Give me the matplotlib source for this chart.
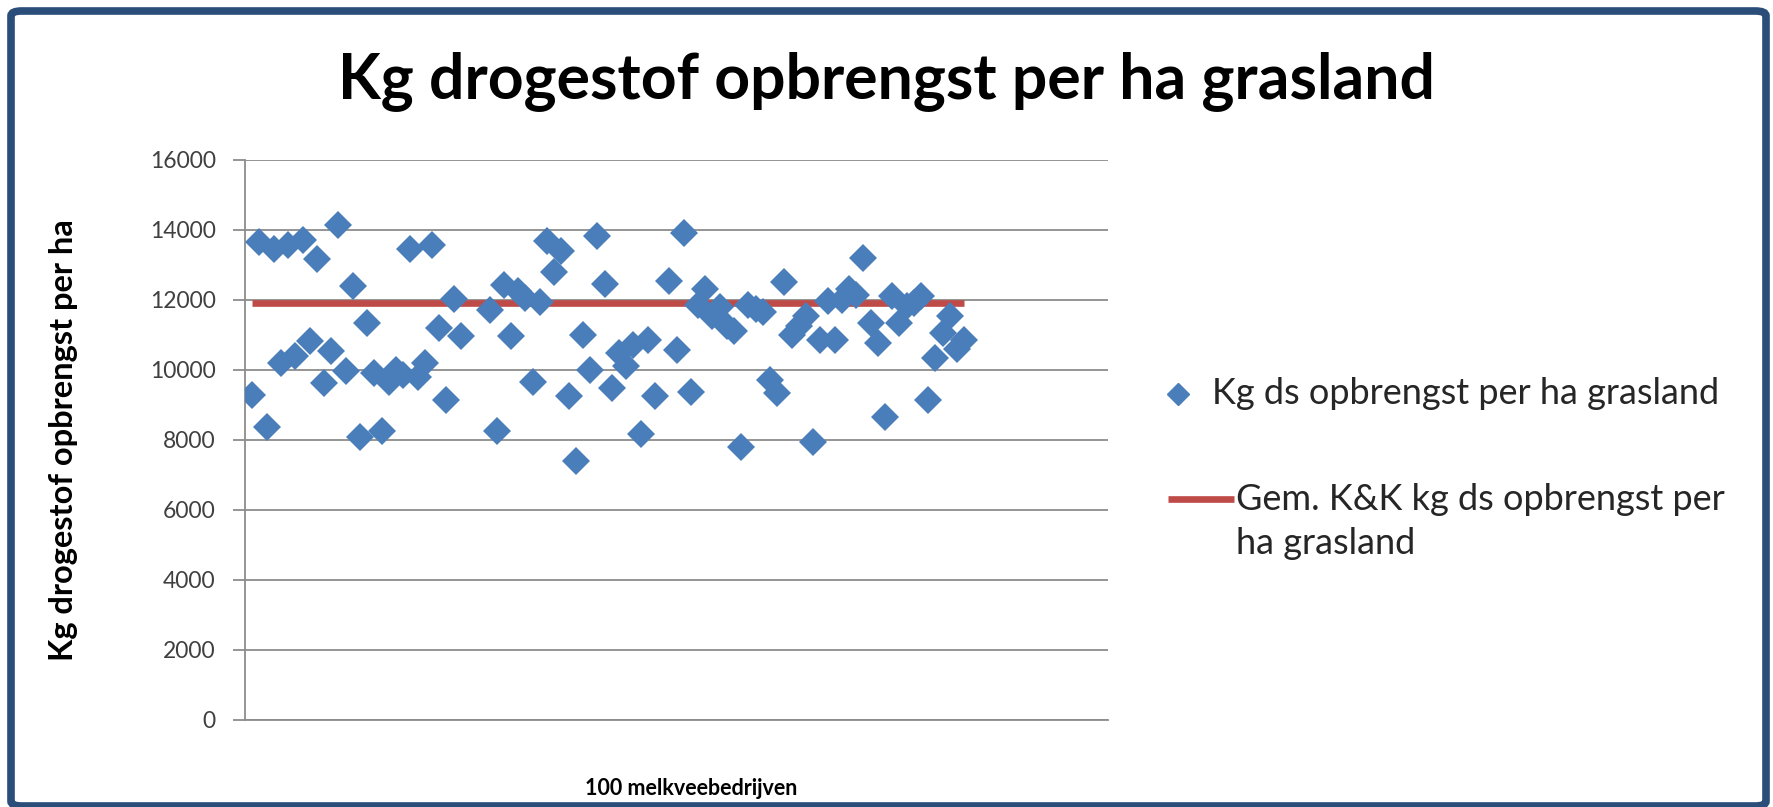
import numpy as np
import matplotlib
matplotlib.use('Agg')
import matplotlib.pyplot as plt
from matplotlib.patches import FancyBboxPatch
from matplotlib.lines import Line2D

plt.rcParams['font.family'] = ['Lato', 'DejaVu Sans']

# opbrengst per bedrijf (kg ds / ha), nan = geen punt zichtbaar
bedrijf = np.arange(1, 101)
opbrengst = [9280, 13660, 8370, 13470, 10200, 13570, 10400, 13710, 10820, 13180,
             9620, 10530, 14150, 9960, 12410, 8100, 11350, 9900, 8270, 9670,
             10000, 9850, 13470, 9810, 10200, 13570, 11200, 9140, 12030, 10970,
             np.nan, np.nan, np.nan, 11720, 8270, 12430, 10960, 12250, 12050, 9660,
             11930, 13690, 12790, 13400, 9270, 7390, 11000, 10000, 13830, 12450,
             9490, 10480, 10100, 10720, 8170, 10850, 9270, np.nan, 12530, 10580,
             13920, 9370, 11870, 12310, 11550, 11800, 11250, 11100, 7790, 11850,
             11750, 11650, 9700, 9330, 12505, 11000, 11250, 11540, 7930, 10860,
             11970, 10860, 12000, 12320, 12150, 13200, 11350, 10770, 8650, 12120,
             11350, 11830, 11900, 12120, 9140, 10350, 11050, 11550, 10600, 10850]
gem_x = [1, 100]
gem_y = [11900, 11900]

yticks = np.arange(0, 16001, 2000)

W, H = 1773, 807
fig = plt.figure(figsize=(W/100, H/100), dpi=100)
fig.patch.set_facecolor('white')

def fx(px):
    return px / W

def fy(py):
    return 1 - py / H

# rand om de grafiek
rand = FancyBboxPatch((fx(11), fy(806)), fx(1766 - 11), (806 - 11)/H,
                      boxstyle='round,pad=0,rounding_size=0.006',
                      transform=fig.transFigure, facecolor='none',
                      edgecolor='#2A4D7A', linewidth=5.5, zorder=5)
fig.patches.append(rand)

ax = fig.add_axes([fx(245), fy(720), (1108 - 245)/W, (720 - 160)/H])
ax.set_facecolor('none')

blauw = '#4A7EBB'
rood = '#BE4B48'

ax.plot(gem_x, gem_y, color=rood, lw=4.8, solid_capstyle='butt', zorder=2)
ax.plot(bedrijf, opbrengst, ls='none', marker='D', ms=14.5, mfc=blauw,
        mec=blauw, mew=0, zorder=3)

ax.set_xlim(0, 120)
ax.set_ylim(0, 16000)
ax.set_yticks(yticks)
ax.set_yticklabels([str(v) for v in yticks], fontsize=16.5, color='#404040')
ax.set_xticks([])
ax.yaxis.grid(True, color='#8C8C8C', lw=1.3)
ax.set_axisbelow(True)
ax.tick_params(axis='y', length=9, width=1.3, color='#8C8C8C', pad=12)
for s in ['top', 'right']:
    ax.spines[s].set_visible(False)
for s in ['left', 'bottom']:
    ax.spines[s].set_color('#8C8C8C')
    ax.spines[s].set_linewidth(1.3)

ax.set_ylabel('Kg drogestof opbrengst per ha', fontsize=23.5, fontweight='bold',
              labelpad=52)
ax.set_xlabel('100 melkveebedrijven', fontsize=15.5, fontweight='bold')
ax.xaxis.set_label_coords(0.517, -0.104)

fig.text(0.5, fy(81), 'Kg drogestof opbrengst per ha grasland', ha='center',
         va='center', fontsize=45, fontweight='bold')

# legenda
fig.add_artist(Line2D([fx(1178)], [fy(394)], ls='none', marker='D', ms=11,
                      mfc=blauw, mec=blauw, transform=fig.transFigure))
fig.text(fx(1212), fy(394), 'Kg ds opbrengst per ha grasland', fontsize=26,
         va='center', color='#262626')
fig.add_artist(Line2D([fx(1168), fx(1234)], [fy(499), fy(499)], color=rood, lw=4.8,
                      solid_capstyle='butt', transform=fig.transFigure))
fig.text(fx(1236), fy(499), 'Gem. K&K kg ds opbrengst per', fontsize=26,
         va='center', color='#262626')
fig.text(fx(1236), fy(543), 'ha grasland', fontsize=26, va='center', color='#262626')

fig.savefig('out.png', dpi=100)
